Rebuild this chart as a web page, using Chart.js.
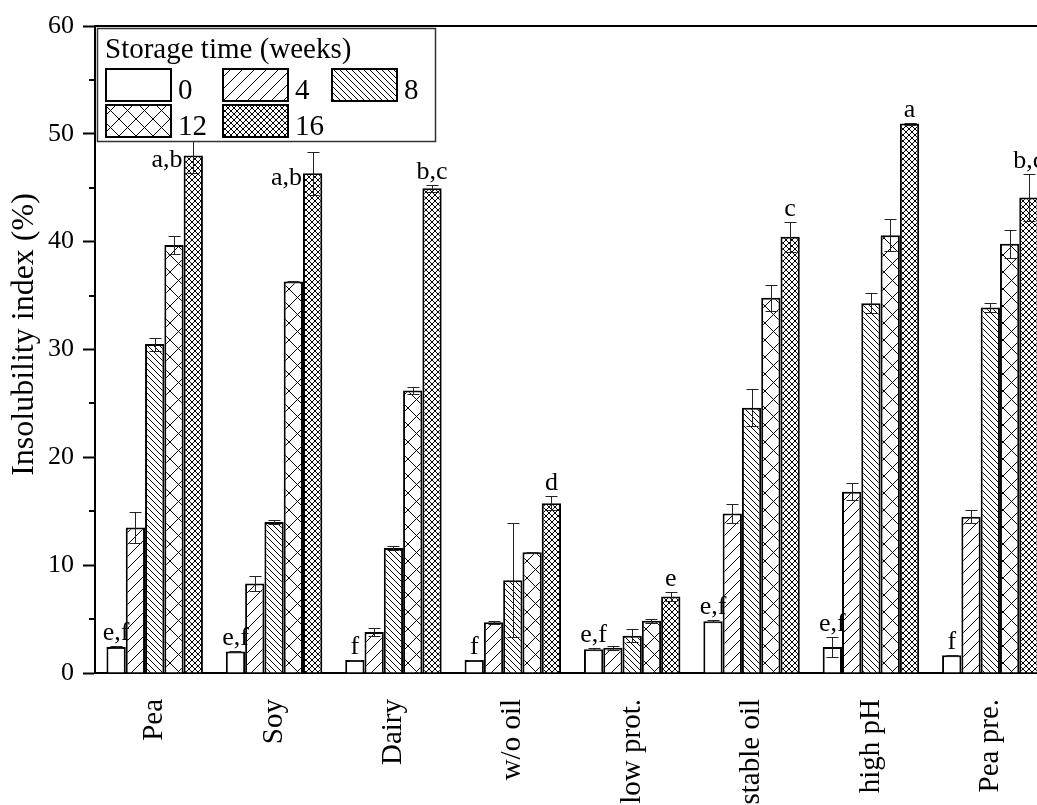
<!DOCTYPE html>
<html>
<head>
<meta charset="utf-8">
<title>Insolubility index</title>
<script src="https://cdn.jsdelivr.net/npm/chart.js"></script>
<style>
  html, body { margin: 0; padding: 0; background: #fff; overflow: hidden; }
  #wrap { width: 1037px; height: 805px; overflow: hidden; position: relative; }
  canvas { display: block; }
</style>
</head>
<body>
<div id="wrap"><canvas id="chart" width="1060" height="820"></canvas></div>
<script>
// categories and storage times
const categories = ['Pea', 'Soy', 'Dairy', 'w/o oil', 'low prot.', 'stable oil', 'high pH', 'Pea pre.'];
const weeks = ['0', '4', '8', '12', '16'];

// mean insolubility index (%) per storage time
const week0  = [2.4, 2.0, 1.2, 1.2, 2.2, 4.8, 2.4, 1.65];
const week4  = [13.5, 8.3, 3.8, 4.7, 2.35, 14.8, 16.8, 14.5];
const week8  = [30.5, 14.0, 11.6, 8.6, 3.45, 24.6, 34.3, 33.9];
const week12 = [39.7, 36.3, 26.2, 11.2, 4.85, 34.8, 40.6, 39.8];
const week16 = [48.0, 46.35, 44.95, 15.75, 7.1, 40.45, 50.95, 44.1];

// standard deviations
const err0  = [0.1, 0.05, 0.05, 0.05, 0.1, 0.1, 0.9, 0.05];
const err4  = [1.4, 0.7, 0.4, 0.15, 0.2, 0.85, 0.8, 0.6];
const err8  = [0.6, 0.15, 0.2, 5.3, 0.6, 1.7, 0.9, 0.45];
const err12 = [0.8, 0.05, 0.35, 0.05, 0.2, 1.2, 1.5, 1.3];
const err16 = [1.6, 2.0, 0.3, 0.65, 0.4, 1.4, 0.1, 2.2];

// significance letters (week 0 and week 16 bars)
const letters0  = ['e,f', 'e,f', 'f', 'f', 'e,f', 'e,f', 'e,f', 'f'];
const letters16 = ['a,b', 'a,b', 'b,c', 'd', 'e', 'c', 'a', 'b,c'];

// y axis
const yTitle = 'Insolubility index (%)';
const yMin = 0, yMax = 60, yStep = 10, yMinorStep = 5;

const series = [week0, week4, week8, week12, week16];
const errors = [err0, err4, err8, err12, err16];

const SERIF = "'Liberation Serif', 'Times New Roman', serif";

// hatch fills: '' plain, '/' or '\\' single, 'x' cross
function hatch(size, kind) {
    const c = document.createElement('canvas');
    c.width = size; c.height = size;
    const g = c.getContext('2d');
    g.fillStyle = '#fff';
    g.fillRect(0, 0, size, size);
    g.strokeStyle = '#000';
    g.lineWidth = 1;
    g.beginPath();
    for (let k = -1; k <= 1; k++) {
        if (kind === '/' || kind === 'x') {
            g.moveTo(-1, size + k * size + 1);
            g.lineTo(size + 1, k * size - 1);
        }
        if (kind === '\\' || kind === 'x') {
            g.moveTo(-1, k * size - 1);
            g.lineTo(size + 1, size + k * size + 1);
        }
    }
    g.stroke();
    return g.createPattern(c, 'repeat');
}

const fills = ['#ffffff', hatch(12, '/'), hatch(6, '\\'), hatch(17, 'x'), hatch(6, 'x')];

// legend box, relative to the chart area top-left
const legendBox = { dx: 2, dy: 2, w: 338, h: 113 };

const overlay = {
    id: 'overlay',
    afterDatasetsDraw(chart) {
        const ctx = chart.ctx;
        const y = chart.scales.y;
        const ca = chart.chartArea;
        ctx.save();

        // error bars
        ctx.strokeStyle = '#222';
        ctx.lineWidth = 1;
        errors.forEach((errs, i) => {
            chart.getDatasetMeta(i).data.forEach((bar, j) => {
                const v = series[i][j], e = errs[j];
                const top = Math.round(y.getPixelForValue(v + e)) + 0.5;
                const bot = Math.round(y.getPixelForValue(v - e)) + 0.5;
                const x = Math.round(bar.x) + 0.5;
                ctx.beginPath();
                ctx.moveTo(x, top); ctx.lineTo(x, bot);
                ctx.moveTo(x - 6, top); ctx.lineTo(x + 6, top);
                ctx.moveTo(x - 6, bot); ctx.lineTo(x + 6, bot);
                ctx.stroke();
            });
        });

        // letters above bars
        ctx.font = '26px ' + SERIF;
        ctx.fillStyle = '#000';
        ctx.textBaseline = 'alphabetic';
        const lgRight = ca.left + legendBox.dx + legendBox.w;
        const lgBottom = ca.top + legendBox.dy + legendBox.h;
        [[0, letters0], [4, letters16]].forEach(([i, letters]) => {
            chart.getDatasetMeta(i).data.forEach((bar, j) => {
                const topPx = y.getPixelForValue(series[i][j] + errors[i][j]);
                const w = ctx.measureText(letters[j]).width;
                let x = bar.x, base = topPx - 6;
                ctx.textAlign = 'center';
                if (base - 20 < lgBottom && x - w / 2 < lgRight) {
                    // no room under the legend: put it beside the bar
                    ctx.textAlign = 'right';
                    x = bar.x - bar.width / 2 - 1;
                    base = bar.y + 12;
                }
                ctx.fillText(letters[j], x, base);
            });
        });
        ctx.restore();
    },
    afterDraw(chart) {
        const ctx = chart.ctx;
        const ca = chart.chartArea;
        const y = chart.scales.y;
        ctx.save();

        // minor ticks
        ctx.strokeStyle = '#000';
        ctx.lineWidth = 2;
        ctx.beginPath();
        for (let v = yMin + yMinorStep; v < yMax; v += yStep) {
            const py = Math.round(y.getPixelForValue(v));
            ctx.moveTo(ca.left - 6, py);
            ctx.lineTo(ca.left, py);
        }
        // top and right frame
        ctx.moveTo(ca.left, ca.top);
        ctx.lineTo(ca.right, ca.top);
        ctx.lineTo(ca.right, ca.bottom);
        ctx.stroke();

        // y axis title (sits a little above the axis middle)
        ctx.save();
        ctx.translate(25, (ca.top + ca.bottom) / 2 - 15);
        ctx.rotate(-Math.PI / 2);
        ctx.fillStyle = '#000';
        ctx.font = '32px ' + SERIF;
        ctx.textAlign = 'center';
        ctx.textBaseline = 'middle';
        ctx.fillText(yTitle, 0, 0);
        ctx.restore();

        // legend
        const bx = ca.left + legendBox.dx, by = ca.top + legendBox.dy;
        ctx.fillStyle = '#fff';
        ctx.fillRect(bx, by, legendBox.w, legendBox.h);
        ctx.strokeStyle = '#333';
        ctx.lineWidth = 1.5;
        ctx.strokeRect(bx + 0.5, by + 0.5, legendBox.w, legendBox.h);

        ctx.fillStyle = '#000';
        ctx.font = '29px ' + SERIF;
        ctx.textAlign = 'left';
        ctx.textBaseline = 'alphabetic';
        ctx.fillText('Storage time (weeks)', bx + 8, by + 30);

        const colX = [9, 126, 235];
        const rowY = [41, 77];
        chart.data.datasets.forEach((ds, k) => {
            const sx = bx + colX[k % 3];
            const sy = by + rowY[Math.floor(k / 3)];
            ctx.fillStyle = ds.backgroundColor;
            ctx.fillRect(sx, sy, 65, 32);
            ctx.strokeStyle = '#000';
            ctx.lineWidth = 2;
            ctx.strokeRect(sx, sy, 65, 32);
            ctx.fillStyle = '#000';
            ctx.fillText(ds.label, sx + 72, sy + 30);
        });
        ctx.restore();
    }
};

const chart = new Chart(document.getElementById('chart').getContext('2d'), {
    type: 'bar',
    data: {
        labels: categories,
        datasets: weeks.map((w, i) => ({
            label: w,
            data: series[i],
            backgroundColor: fills[i],
            borderColor: '#000',
            borderWidth: 2,
            categoryPercentage: 0.808,
            barPercentage: 1.0
        }))
    },
    options: {
        responsive: false,
        animation: false,
        layout: { padding: { top: 26, right: 10, left: 0, bottom: 0 } },
        plugins: {
            legend: { display: false },
            tooltip: { enabled: false }
        },
        scales: {
            x: {
                offset: true,
                grid: { display: false, drawTicks: false },
                border: { display: true, color: '#000', width: 2 },
                ticks: {
                    autoSkip: false,
                    minRotation: 90,
                    maxRotation: 90,
                    padding: 26,
                    color: '#000',
                    font: { family: SERIF, size: 29 }
                },
                afterFit: (s) => { s.height = 147; }
            },
            y: {
                min: yMin,
                max: yMax,
                ticks: {
                    stepSize: yStep,
                    padding: 9,
                    color: '#000',
                    font: { family: SERIF, size: 26 }
                },
                grid: {
                    drawOnChartArea: false,
                    drawTicks: true,
                    tickLength: 12,
                    tickWidth: 2,
                    tickColor: '#000'
                },
                border: { display: true, color: '#000', width: 2 },
                afterFit: (s) => { s.width = 95; }
            }
        }
    },
    plugins: [overlay]
});
</script>
</body>
</html>
